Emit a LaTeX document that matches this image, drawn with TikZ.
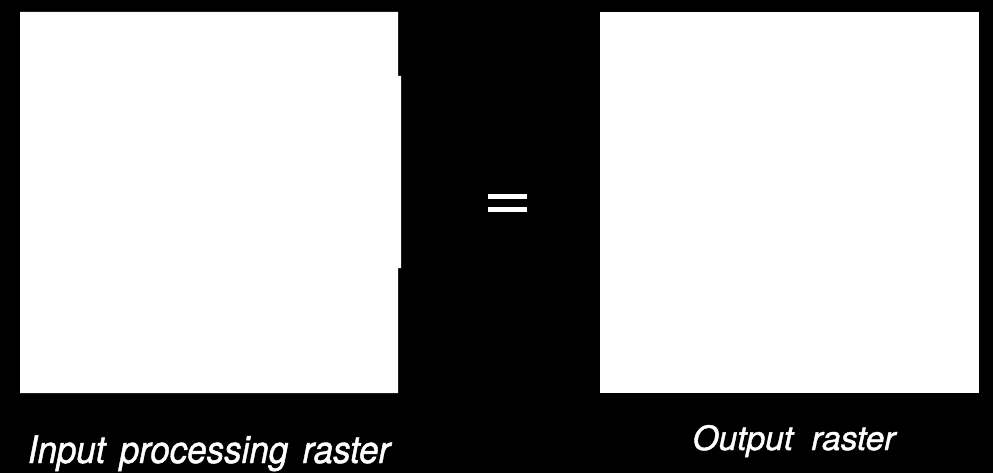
\documentclass[tikz,border=0pt]{standalone}
\usepackage{fontspec}
\setmainfont{TeX Gyre Heros}[ItalicFeatures={FakeBold=1.2}]
\usepackage{graphicx}
\begin{document}
\begin{tikzpicture}[x=1pt,y=-1pt,
  panel/.style={fill=white,draw=none},
  caption/.style={text=white,font=\itshape,inner sep=0pt,anchor=base},
  eqbar/.style={fill=white,draw=none}]
\fill[black] (0,0) rectangle (993,473);
\useasboundingbox (0,0) rectangle (993,473);
% left panel with slight bump
\fill[panel] (20,12) -- (398,12) -- (398,76) -- (401,76) -- (401,268) -- (398,268) -- (398,393) -- (20,393) -- cycle;
% right panel
\fill[panel] (600,12) rectangle (979,393);
% equals sign
\fill[eqbar] (488,194) rectangle (527,199);
\fill[eqbar] (488,207) rectangle (527,212);
% captions
\node[caption,font=\fontsize{38}{40}\selectfont\itshape] (lc) at (209,463) {\scalebox{0.92}[1]{Input\hspace{5pt} processing\hspace{5pt} raster}};
\node[caption,font=\fontsize{33.5}{36}\selectfont\itshape] (rc) at (794,450) {Output\hspace{9pt} raster};
\end{tikzpicture}
\end{document}
